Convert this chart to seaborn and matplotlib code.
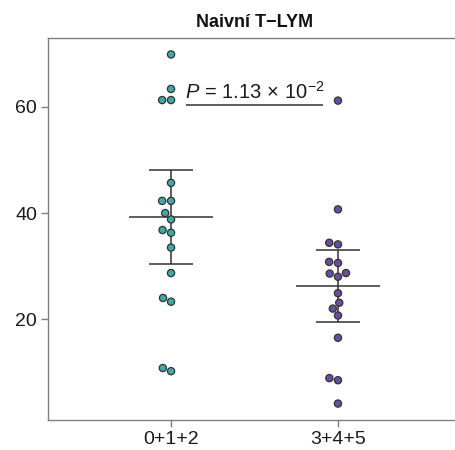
import numpy as np
import pandas as pd
import matplotlib
matplotlib.use("Agg")
import matplotlib.pyplot as plt
import seaborn as sns

sns.set_theme(style="white")
plt.rcParams['font.family'] = ['Liberation Sans', 'DejaVu Sans']
plt.rcParams['mathtext.fontset'] = 'custom'
plt.rcParams['mathtext.rm'] = 'Liberation Sans'
plt.rcParams['mathtext.it'] = 'Liberation Sans:italic'

categories = ["0+1+2", "3+4+5"]
group_a = [69.9, 63.4, 61.3, 61.3, 45.7, 42.3, 42.3, 40.0, 38.8, 36.8, 36.3,
           33.5, 28.7, 24.0, 23.3, 10.8, 10.2]
group_b = [61.2, 40.7, 34.1, 34.4, 30.8, 30.6, 28.7, 28.6, 28.0, 24.9, 23.1,
           22.0, 20.7, 16.5, 8.5, 8.9, 4.1]
ci_low = [30.4, 19.4]
ci_high = [48.2, 33.0]
colors = ["#3fa9a5", "#6a4e9e"]
title = "Naivní T\u2212LYM"
p_label = r"$\it{P}$ = 1.13$\,\times\,$10$^{-2}$"
p_y = 60.4

df = pd.DataFrame({
    "group": [categories[0]] * len(group_a) + [categories[1]] * len(group_b),
    "value": group_a + group_b,
})

fig = plt.figure(figsize=(4.56, 4.5), dpi=100)
ax = fig.add_axes([48 / 456, 1 - 420 / 450, (461 - 48) / 456, (420 - 38) / 450])

sns.swarmplot(data=df, x="group", y="value", hue="group", palette=colors,
              order=categories, size=5.2, linewidth=0.9, edgecolor="#333333",
              legend=False, ax=ax)

means = [np.mean(group_a), np.mean(group_b)]
for i, m in enumerate(means):
    ax.hlines(m, i - 0.25, i + 0.25, color="#333333", lw=1.1, zorder=1)
    ax.vlines(i, ci_low[i], ci_high[i], color="#333333", lw=1.1, zorder=1)
    ax.hlines([ci_low[i], ci_high[i]], i - 0.13, i + 0.13, color="#333333", lw=1.1, zorder=1)

ax.hlines(p_y, 0.09, 0.91, color="#333333", lw=1.1)
ax.text(0.5, p_y + 0.45, p_label, ha="center", va="bottom", fontsize=14.5, color="#1a1a1a")

ax.set_xlim(-0.737, 1.737)
ax.set_ylim(1, 73)
ax.set_yticks([20, 40, 60])
ax.set_xlabel("")
ax.set_ylabel("")
ax.set_title(title, fontsize=13, fontweight="bold", pad=8, color="#111111")

for s in ["left", "top", "bottom"]:
    ax.spines[s].set_color("#808080")
    ax.spines[s].set_linewidth(1.0)
ax.spines["right"].set_visible(False)
ax.tick_params(axis="both", which="both", length=5, width=1, color="#808080",
               labelsize=14, labelcolor="#1a1a1a", direction="out",
               left=True, bottom=True, pad=3)

fig.savefig("out.png", dpi=100, facecolor="white")
